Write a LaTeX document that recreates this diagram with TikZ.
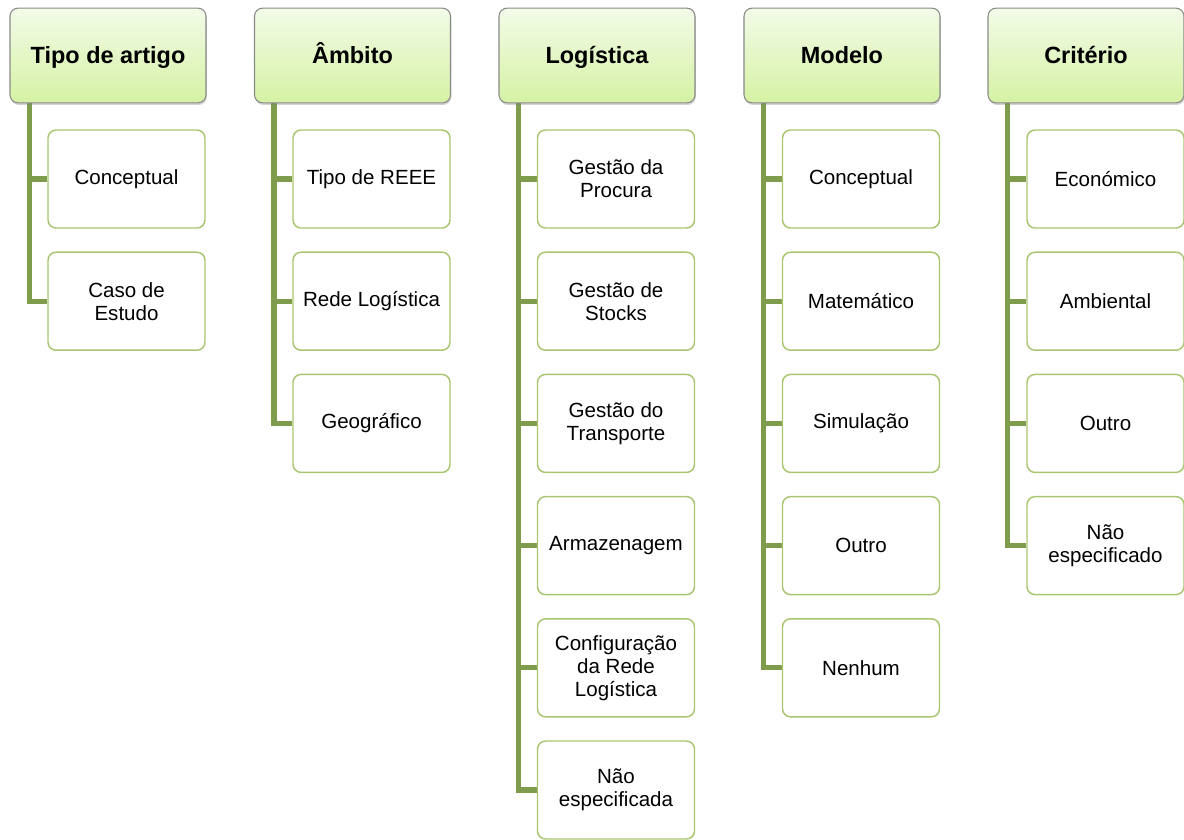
\documentclass[tikz,border=0pt]{standalone}
\usepackage{fontspec}
\setmainfont{Liberation Sans}
\usetikzlibrary{calc,shadows,backgrounds}
\definecolor{trunkgreen}{HTML}{7F9B4C}
\definecolor{leafedge}{HTML}{A8C66F}
\definecolor{headtop}{HTML}{F3FBE8}
\definecolor{headbot}{HTML}{D5F2A4}
\definecolor{headedge}{HTML}{8A8A8A}
\tikzset{
  head/.style={draw=headedge, line width=0.8pt, rounded corners=6pt,
    top color=headtop, bottom color=headbot,
    minimum width=147pt, minimum height=71pt, inner sep=0pt,
    text height=14.5pt, text depth=2.1pt,
    font=\fontsize{17.6}{20}\selectfont\bfseries,
    drop shadow={shadow xshift=0.6pt, shadow yshift=-1.6pt, opacity=0.35}},
  leaf/.style={draw=leafedge, line width=1.1pt, rounded corners=6pt, fill=white,
    minimum width=117.75pt, minimum height=73.5pt, inner sep=0pt,
    align=center, font=\fontsize{15.4}{17.3}\selectfont},
  trunk/.style={draw=trunkgreen, line width=3.8pt}
}
\begin{document}
\begin{tikzpicture}[x=0.75pt, y=-0.75pt]
\useasboundingbox (0,0) rectangle (1184,839);

% column headers
\node[head] (h1) at (108,55.5)   {Tipo de artigo};
\node[head] (h2) at (352.5,55.5) {Âmbito};
\node[head] (h3) at (597,55.5)   {Logística};
\node[head] (h4) at (842,55.5)   {Modelo};
\node[head] (h5) at (1086,55.5)  {Critério};

% Tipo de artigo
\node[leaf] (a1) at (126.5,179)   {Conceptual};
\node[leaf] (a2) at (126.5,301.2) {Caso de\\Estudo};

% Âmbito
\node[leaf] (b1) at (371.5,179)   {Tipo de REEE};
\node[leaf] (b2) at (371.5,301.2) {Rede Logística};
\node[leaf] (b3) at (371.5,423.4) {Geográfico};

% Logística
\node[leaf] (l1) at (616,179)   {Gestão da\\Procura};
\node[leaf] (l2) at (616,301.2) {Gestão de\\Stocks};
\node[leaf] (l3) at (616,423.4) {Gestão do\\Transporte};
\node[leaf] (l4) at (616,545.6) {Armazenagem};
\node[leaf] (l5) at (616,667.8) {Configuração\\da Rede\\Logística};
\node[leaf] (l6) at (616,790)   {Não\\especificada};

% Modelo
\node[leaf] (m1) at (861,179)   {Conceptual};
\node[leaf] (m2) at (861,301.2) {Matemático};
\node[leaf] (m3) at (861,423.4) {Simulação};
\node[leaf] (m4) at (861,545.6) {Outro};
\node[leaf] (m5) at (861,667.8) {Nenhum};

% Critério
\node[leaf] (k1) at (1105.5,179)   {Económico};
\node[leaf] (k2) at (1105.5,301.2) {Ambiental};
\node[leaf] (k3) at (1105.5,423.4) {Outro};
\node[leaf] (k4) at (1105.5,545.6) {Não\\especificado};

% trunks and branches, behind the boxes
\begin{scope}[on background layer]
  \foreach \h/\list in {h1/{a1,a2}, h2/{b1,b2,b3}, h3/{l1,l2,l3,l4,l5,l6},
                        h4/{m1,m2,m3,m4,m5}, h5/{k1,k2,k3,k4}} {
    \foreach \c in \list {
      \draw[trunk] ($(\h.south west)+(20,-4)$) |- (\c.west);
    }
  }
\end{scope}
\end{tikzpicture}
\end{document}
